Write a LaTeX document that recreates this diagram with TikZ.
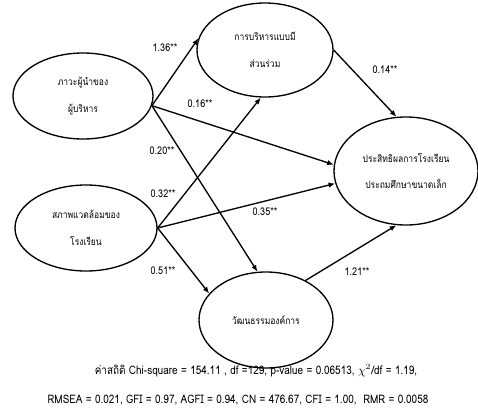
\documentclass[tikz,border=0pt]{standalone}
\usepackage{fontspec}
\setmainfont[Script=Thai,FakeStretch=0.85]{Loma}
\usetikzlibrary{
  shapes.geometric,
  arrows.meta,
}

\begin{document}
\begin{tikzpicture}[x=0.75pt,y=-0.75pt]
\tikzset{
  latent/.style={
    draw,
    ellipse,
    line width=1pt,
    inner sep=0pt,
    align=center,
    font=\fontsize{7.5}{20}\selectfont,
  },
  effect/.style={
    -{Latex[length=5pt,width=4pt]},
    line width=1pt,
  },
  coef/.style={
    inner sep=0pt,
    font=\fontsize{8}{9}\selectfont,
  },
  fitline/.style={
    inner sep=0pt,
    font=\fontsize{8.8}{10}\selectfont,
  },
}
\useasboundingbox (0,0) rectangle (478,418);

\node[latent, minimum width=105pt, minimum height=64.5pt] (lead) at (83,96) {ภาวะผู้นำของ\\ผู้บริหาร};
\node[latent, minimum width=106.5pt, minimum height=64.5pt] (env) at (86,228) {สภาพแวดล้อมของ\\โรงเรียน};
\node[latent, minimum width=102pt, minimum height=70.5pt] (part) at (265,50) {การบริหารแบบมี\\ส่วนร่วม};
\node[latent, minimum width=100.5pt, minimum height=72pt] (cult) at (266,320) {วัฒนธรรมองค์การ};
\node[latent, minimum width=108pt, minimum height=81pt] (eff) at (406,171) {ประสิทธิผลการโรงเรียน\\ประถมศึกษาขนาดเล็ก};

\foreach \src/\dst in {lead.-8/part.170, lead.-8/eff.175, lead.-8/cult.100,
  env.east/part.265, env.east/eff.190, env.east/cult.155,
  part.east/eff.100, cult.45/eff.260}
  \draw[effect] (\src) -- (\dst);

\foreach \val/\x/\y [count=\k] in {1.36/165/48, 0.16/200/104, 0.20/162/151,
  0.32/163/194, 0.35/265/212, 0.51/163/271, 1.21/357/272, 0.14/385/70}
  \node[coef] (coef\k) at (\x,\y) {\val**};

\node[fitline] (fit1) at (256,371) {ค่าสถิติ Chi-square = 154.11 , df =129, p-value = 0.06513, $\chi^{2}$/df = 1.19,};
\node[fitline] (fit2) at (238,400) {RMSEA = 0.021, GFI = 0.97, AGFI = 0.94, CN = 476.67, CFI = 1.00,\ \ RMR = 0.0058};
\end{tikzpicture}
\end{document}
